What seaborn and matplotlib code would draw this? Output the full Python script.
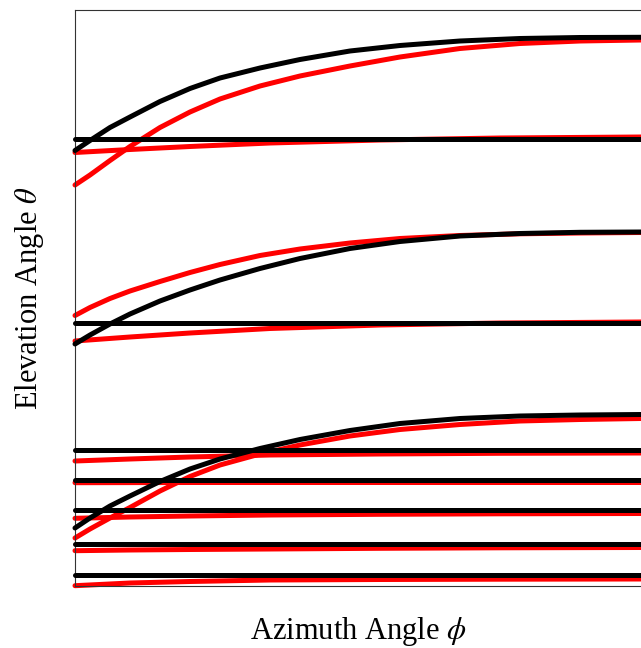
import matplotlib
matplotlib.use("Agg")
import matplotlib.pyplot as plt
import seaborn as sns
import pandas as pd

sns.set_style("white")
plt.rcParams["mathtext.fontset"] = "stix"

# ---- data (phi: azimuth position, theta: elevation, arbitrary units) ----
phi_span = [0, 566]

# black horizontal reference lines (constant elevation)
black_levels = [447, 262.7, 136.3, 106.3, 76, 42, 11.5]

# sample positions of the curved traces
curve_phi = [0, 15, 35, 55, 85, 115, 145, 185, 225, 275, 325, 385, 445, 505, 566]

# black curved traces
black_top = [435.5, 445.5, 458.5, 469, 484.5, 497.5, 508, 518, 526.5, 535, 540.5, 545, 547.5, 548.5, 548.7]
black_mid = [242, 251, 262, 272, 285, 296, 306, 317.5, 327.5, 337.5, 344.5, 350, 352.5, 353.7, 354]
black_bot = [58, 68, 80, 90, 104.5, 117, 127, 137.5, 146.5, 155.5, 162.5, 167.5, 170, 171, 171.5]

# red curved traces
red_top = [401, 411, 425.5, 439.5, 458.5, 474, 487, 500, 510, 520, 529, 537.5, 542.5, 545, 546]
red_mid = [270.5, 278.5, 287.5, 295, 304.5, 313.5, 321.5, 330.5, 337, 343, 347.5, 350.5, 352.2, 353, 353.5]
red_bot = [48, 57, 68, 78.5, 95, 109.5, 121, 132, 141, 150, 156.5, 161.5, 165, 166.5, 167.5]

# red near-horizontal traces
flat_phi = [0, 55, 115, 195, 305, 425, 566]
red_flat = [
    [433.5, 436.5, 439.5, 443, 446, 448, 449],
    [245, 249, 253, 257.5, 261, 263, 264],
    [125, 127, 129, 131, 132, 132.7, 133],
    [103.3, 103.4, 103.5, 103.5, 103.5, 103.5, 103.5],
    [67.7, 69, 70, 71, 71.7, 72.2, 72.5],
    [35.3, 36, 36.5, 37, 37.7, 38.2, 38.5],
    [0.3, 3, 4.5, 6, 6.5, 6.8, 7],
]

# ---- plotting ----
fig = plt.figure(figsize=(6.41, 6.48), dpi=100)
ax = fig.add_axes([75 / 641, 1 - 586 / 648, 566 / 641, 576 / 648])

lw = 3.6

def draw(x, y, color, z):
    df = pd.DataFrame({"phi": x, "theta": y})
    sns.lineplot(data=df, x="phi", y="theta", color=color, linewidth=lw,
                 zorder=z, estimator=None, sort=False, ax=ax, legend=False)

# red first, black on top
for ys in (red_top, red_mid, red_bot):
    draw(curve_phi, ys, "#ff0000", 2)
for ys in red_flat:
    draw(flat_phi, ys, "#ff0000", 2)

for ys in (black_top, black_mid, black_bot):
    draw(curve_phi, ys, "black", 3)
for lv in black_levels:
    draw(phi_span, [lv, lv], "black", 3)

for line in ax.lines:
    line.set_solid_capstyle("round")
    line.set_solid_joinstyle("round")
    line.set_clip_on(False)

ax.set_xlim(0, 566)
ax.set_ylim(0, 576)
ax.set_xticks([])
ax.set_yticks([])
for s in ["left", "top", "bottom"]:
    ax.spines[s].set_color("#333333")
    ax.spines[s].set_linewidth(0.8)
ax.spines["right"].set_visible(False)

font = dict(family="Liberation Serif", size=22, math_fontfamily="stix", color="black")
ax.set_xlabel(r"Azimuth Angle $\phi$", labelpad=21, **font)
ax.set_ylabel(r"Elevation Angle $\theta$", labelpad=21, **font)

fig.savefig("out.png", dpi=100)
